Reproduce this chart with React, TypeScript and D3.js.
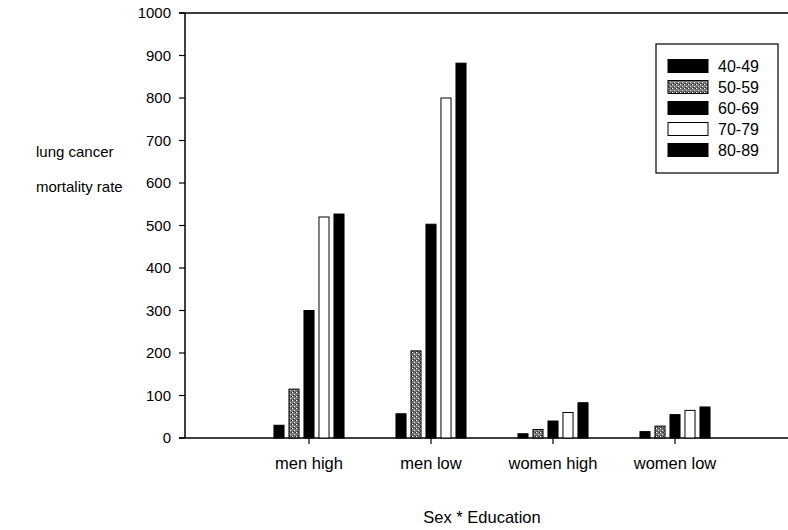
import * as d3 from "d3";

const groups = ["men high", "men low", "women high", "women low"];
const ages = ["40-49", "50-59", "60-69", "70-79", "80-89"];
const menHigh = [30, 115, 300, 520, 527];
const menLow = [57, 205, 503, 800, 882];
const womenHigh = [10, 20, 40, 60, 83];
const womenLow = [15, 28, 55, 65, 73];
const yTicks = [0, 100, 200, 300, 400, 500, 600, 700, 800, 900, 1000];

const values = [menHigh, menLow, womenHigh, womenLow];

const fills = ["#000", "url(#stipple)", "#000", "#fff", "#000"];

const W = 788;
const H = 530;
const axisX = 185;
const top = 13;
const bottom = 438;
const font = "'Liberation Sans', Arial, sans-serif";

export default function App() {
  const y = d3.scaleLinear().domain([0, 1000]).range([bottom, top]);
  const x = d3.scaleBand().domain(groups).range([248, 736]);
  const inner = d3
    .scaleBand()
    .domain(ages)
    .range([-37.5, 37.5])
    .paddingInner(0.33)
    .paddingOuter(0.165);

  return (
    <svg
      width={W}
      height={H}
      style={{ position: "absolute", left: 0, top: 0, background: "#fff" }}
      fontFamily={font}
    >
      <defs>
        <pattern id="stipple" width="4" height="4" patternUnits="userSpaceOnUse">
          <rect width="4" height="4" fill="#777" />
          <rect x="0" y="0" width="1" height="1" fill="#fff" />
          <rect x="2" y="2" width="1" height="1" fill="#ddd" />
          <rect x="3" y="0" width="1" height="1" fill="#222" />
          <rect x="1" y="3" width="1" height="1" fill="#333" />
        </pattern>
      </defs>

      {/* frame lines */}
      <line x1={axisX - 6} x2={W} y1={top} y2={top} stroke="#000" strokeWidth={1.5} />
      <line x1={axisX - 6} x2={W} y1={bottom} y2={bottom} stroke="#000" strokeWidth={1.5} />
      <line x1={axisX} x2={axisX} y1={top} y2={bottom} stroke="#000" strokeWidth={1.5} />

      {yTicks.map((t) => (
        <g key={t}>
          <line x1={axisX - 6} x2={axisX} y1={y(t)} y2={y(t)} stroke="#000" strokeWidth={1.2} />
          <text x={171} y={y(t)} dy="0.36em" textAnchor="end" fontSize={15}>
            {t}
          </text>
        </g>
      ))}

      {groups.map((g, gi) => {
        const cx = (x(g) ?? 0) + x.bandwidth() / 2;
        return (
          <g key={g}>
            <line x1={cx} x2={cx} y1={bottom} y2={bottom + 6} stroke="#000" strokeWidth={1.2} />
            <text x={cx} y={bottom + 31} textAnchor="middle" fontSize={16.5}>
              {g}
            </text>
            {ages.map((a, ai) => {
              const v = values[gi][ai];
              return (
                <rect
                  key={a}
                  x={cx + (inner(a) ?? 0)}
                  y={y(v)}
                  width={inner.bandwidth()}
                  height={bottom - y(v)}
                  fill={fills[ai]}
                  stroke="#000"
                  strokeWidth={1}
                />
              );
            })}
          </g>
        );
      })}

      {/* legend */}
      <rect x={656} y={44} width={122} height={129} fill="#fff" stroke="#000" strokeWidth={1.2} />
      {ages.map((a, i) => {
        const cy = 66 + i * 21;
        return (
          <g key={a}>
            <rect x={668} y={cy - 6.5} width={40} height={13} fill={fills[i]} stroke="#000" strokeWidth={1} />
            <text x={718} y={cy} dy="0.36em" fontSize={16}>
              {a}
            </text>
          </g>
        );
      })}

      <text x={36} y={152} dy="0.36em" fontSize={15}>
        lung cancer
      </text>
      <text x={36} y={187} dy="0.36em" fontSize={15}>
        mortality rate
      </text>
      <text x={482} y={517} dy="0.36em" textAnchor="middle" fontSize={16.5}>
        Sex * Education
      </text>
    </svg>
  );
}
